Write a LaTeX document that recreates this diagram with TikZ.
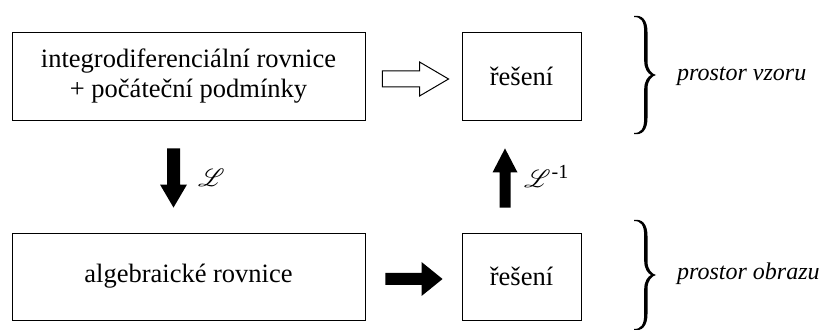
\documentclass[tikz,border=0pt]{standalone}
\usepackage{fontspec}
\setmainfont{Liberation Serif}
\IfFileExists{mathrsfs.sty}{\usepackage{mathrsfs}\newcommand\myL{$\mathscr{L}$}}{\newcommand\myL{\textit{L}}}
\usetikzlibrary{calc}
% tapered curly brace, tip at #1, half height #2
\newcommand\mybrace[2]{%
  \fill[shift={(#1)}] (-22,#2) .. controls (-14,{#2+1.5}) and (-8.5,{#2-4}) .. (-8.5,{#2-16})
    -- (-8.5,14) .. controls (-8.5,5) and (-4,1) .. (0,0)
    .. controls (-4,-1) and (-8.5,-5) .. (-8.5,-14)
    -- (-8.5,{-#2+16}) .. controls (-8.5,{-#2+4}) and (-14,{-#2-1.5}) .. (-22,-#2)
    -- (-22,{-#2+1}) .. controls (-15,{-#2+1}) and (-11.8,{-#2+5}) .. (-11.8,{-#2+16})
    -- (-11.8,-14) .. controls (-11.8,-6) and (-8,-1.5) .. (-5,0)
    .. controls (-8,1.5) and (-11.8,6) .. (-11.8,14)
    -- (-11.8,{#2-16}) .. controls (-11.8,{#2-5}) and (-15,{#2-1}) .. (-22,{#2-1}) -- cycle;}
\begin{document}
\begin{tikzpicture}[x=1pt,y=1pt,
  box/.style={draw, line width=0.9pt, inner sep=0pt, align=center,
    font=\fontsize{26.5}{30}\selectfont},
  solidarr/.style={fill=black, draw=none},
  hollowarr/.style={fill=white, draw=black, line width=1pt, line join=miter},
  lbl/.style={font=\fontsize{27}{30}\selectfont, inner sep=0pt},
  brlbl/.style={font=\fontsize{24}{26}\selectfont\itshape, anchor=west, inner sep=0pt}]
\useasboundingbox (0,0) rectangle (829,329);
% boxes
\node[box, minimum width=353pt, minimum height=88pt] (b1) at (188.5,253)
  {integrodiferenciální rovnice\\+ počáteční podmínky};
\node[box, minimum width=119pt, minimum height=88pt] (b2) at (521.5,253)
  {řešení};
\node[box, minimum width=353pt, minimum height=87pt] (b3) at (188.5,52.5)
  {algebraické rovnice};
\node[box, minimum width=119pt, minimum height=87pt] (b4) at (521.5,52.5)
  {řešení};
% hollow arrow b1 -> b2
\coordinate (ha1) at ($(b1.east)+(17,-3)$);
\coordinate (ha2) at ($(b2.west)+(-13,-3)$);
\draw[hollowarr] ($(ha1)+(0,8)$) -- ($(ha2)+(-29,8)$) -- ($(ha2)+(-29,17)$) -- (ha2)
  -- ($(ha2)+(-29,-17)$) -- ($(ha2)+(-29,-8)$) -- ($(ha1)+(0,-8)$) -- cycle;
% solid arrow b3 -> b4
\coordinate (sa1) at ($(b3.east)+(20,-2.5)$);
\coordinate (sa2) at ($(b4.west)+(-19,-2.5)$);
\fill[solidarr] ($(sa1)+(0,6)$) -- ($(sa2)+(-21,6)$) -- ($(sa2)+(-21,17)$) -- (sa2)
  -- ($(sa2)+(-21,-17)$) -- ($(sa2)+(-21,-6)$) -- ($(sa1)+(0,-6)$) -- cycle;
% down arrow b1 -> b3
\coordinate (da1) at ($(b1.south)+(-15,-28)$);
\coordinate (da2) at ($(b3.north)+(-15,25)$);
\fill[solidarr] ($(da1)+(-6.5,0)$) -- ($(da2)+(-6.5,23)$) -- ($(da2)+(-13.5,23)$) -- (da2)
  -- ($(da2)+(13.5,23)$) -- ($(da2)+(6.5,23)$) -- ($(da1)+(6.5,0)$) -- cycle;
\node[lbl, anchor=west] (L1) at (198,151) {\myL};
% up arrow b4 -> b2
\coordinate (ua1) at ($(b4.north)+(-16.5,25)$);
\coordinate (ua2) at ($(b2.south)+(-16.5,-28)$);
\fill[solidarr] ($(ua1)+(-5.5,0)$) -- ($(ua2)+(-5.5,-24)$) -- ($(ua2)+(-12.5,-24)$) -- (ua2)
  -- ($(ua2)+(12.5,-24)$) -- ($(ua2)+(5.5,-24)$) -- ($(ua1)+(5.5,0)$) -- cycle;
\node[lbl, anchor=west] (L2) at (524,153)
  {\myL\kern1pt{\fontsize{20}{22}\selectfont\raisebox{9pt}{-1}}};
% braces
\mybrace{656,254}{59}
\mybrace{656,54}{55}
\node[brlbl] (t1) at (677,253) {prostor vzoru};
\node[brlbl] (t2) at (677,55) {prostor obrazu};
\end{tikzpicture}
\end{document}
